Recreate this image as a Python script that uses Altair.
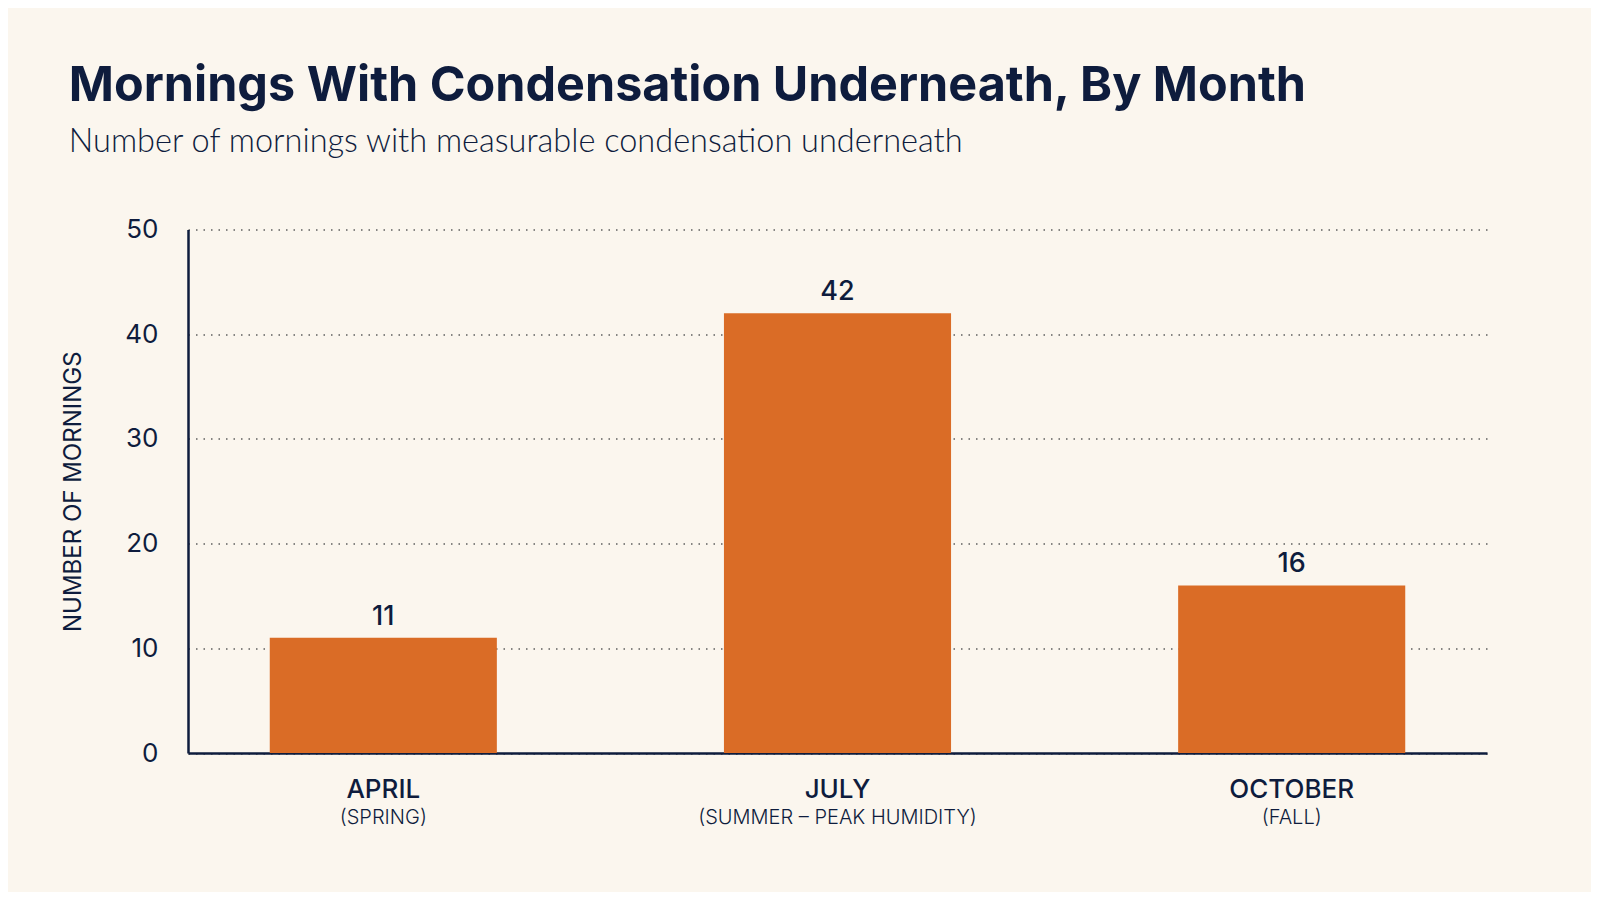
import altair as alt
import pandas as pd

months = ["APRIL", "JULY", "OCTOBER"]
seasons = ["(SPRING)", "(SUMMER – PEAK HUMIDITY)", "(FALL)"]
mornings = [11, 42, 16]
y_ticks = [0, 10, 20, 30, 40, 50]

df = pd.DataFrame({"month": months, "season": seasons, "mornings": mornings})

NAVY = "#0E1C3D"
ORANGE = "#DA6C26"
BG = "#FBF6EE"
FONT = "Inter"
LIGHT = "Lato"
W, H = 1299, 523.5

x_enc = alt.X(
    "month:N",
    sort=months,
    scale=alt.Scale(paddingInner=0.5, paddingOuter=0.18),
    axis=alt.Axis(
        title=None,
        labelAngle=0,
        labelFontSize=26,
        labelFontWeight=500,
        labelColor=NAVY,
        labelFont=FONT,
        labelPadding=23,
        ticks=False,
        domainColor=NAVY,
        domainWidth=2.5,
        grid=False,
    ),
)

bars = alt.Chart(df).mark_bar(color=ORANGE).encode(
    x=x_enc,
    y=alt.Y(
        "mornings:Q",
        scale=alt.Scale(domain=[0, 50]),
        axis=alt.Axis(
            title="NUMBER OF MORNINGS",
            titleFont=FONT,
            titleFontSize=24,
            titleFontWeight=400,
            titleColor=NAVY,
            titlePadding=39,
            values=y_ticks,
            labelFontSize=26,
            labelFont=FONT,
            labelFontWeight=400,
            labelColor=NAVY,
            labelPadding=30,
            ticks=False,
            domainColor=NAVY,
            domainWidth=2.5,
            grid=True,
            gridColor="#5f5f5f",
            gridDash=[1.5, 6],
            gridWidth=1.5,
        ),
    ),
)

values = alt.Chart(df).mark_text(
    baseline="bottom", dy=-7, fontSize=27, fontWeight=500, font=FONT, color=NAVY
).encode(
    x=alt.X("month:N", sort=months),
    y="mornings:Q",
    text="mornings:Q",
)

season_labels = alt.Chart(df).mark_text(
    baseline="middle", fontSize=20, fontWeight=300, font=FONT, color=NAVY
).encode(
    x=alt.X("month:N", sort=months),
    y=alt.value(H + 65),
    text="season:N",
)

chart = (
    alt.layer(bars, values, season_labels)
    .properties(
        width=W,
        height=H,
        background=BG,
        padding={"left": 180, "top": 221.5, "right": 104, "bottom": 139},
        autosize=alt.AutoSizeParams(type="none"),
        title=alt.TitleParams(
            text="Mornings With Condensation Underneath, By Month",
            subtitle="Number of mornings with measurable condensation underneath",
            anchor="start",
            frame="bounds",
            dx=7,
            offset=57,
            font=FONT,
            fontSize=48.5,
            fontWeight=700,
            color=NAVY,
            subtitleFont=LIGHT,
            subtitleFontSize=32.5,
            subtitleFontWeight=300,
            subtitleColor=NAVY,
            subtitlePadding=15,
        ),
    )
    .configure_view(stroke=None)
)

chart.save("out.html", embed_options={"renderer": "svg", "actions": False})
